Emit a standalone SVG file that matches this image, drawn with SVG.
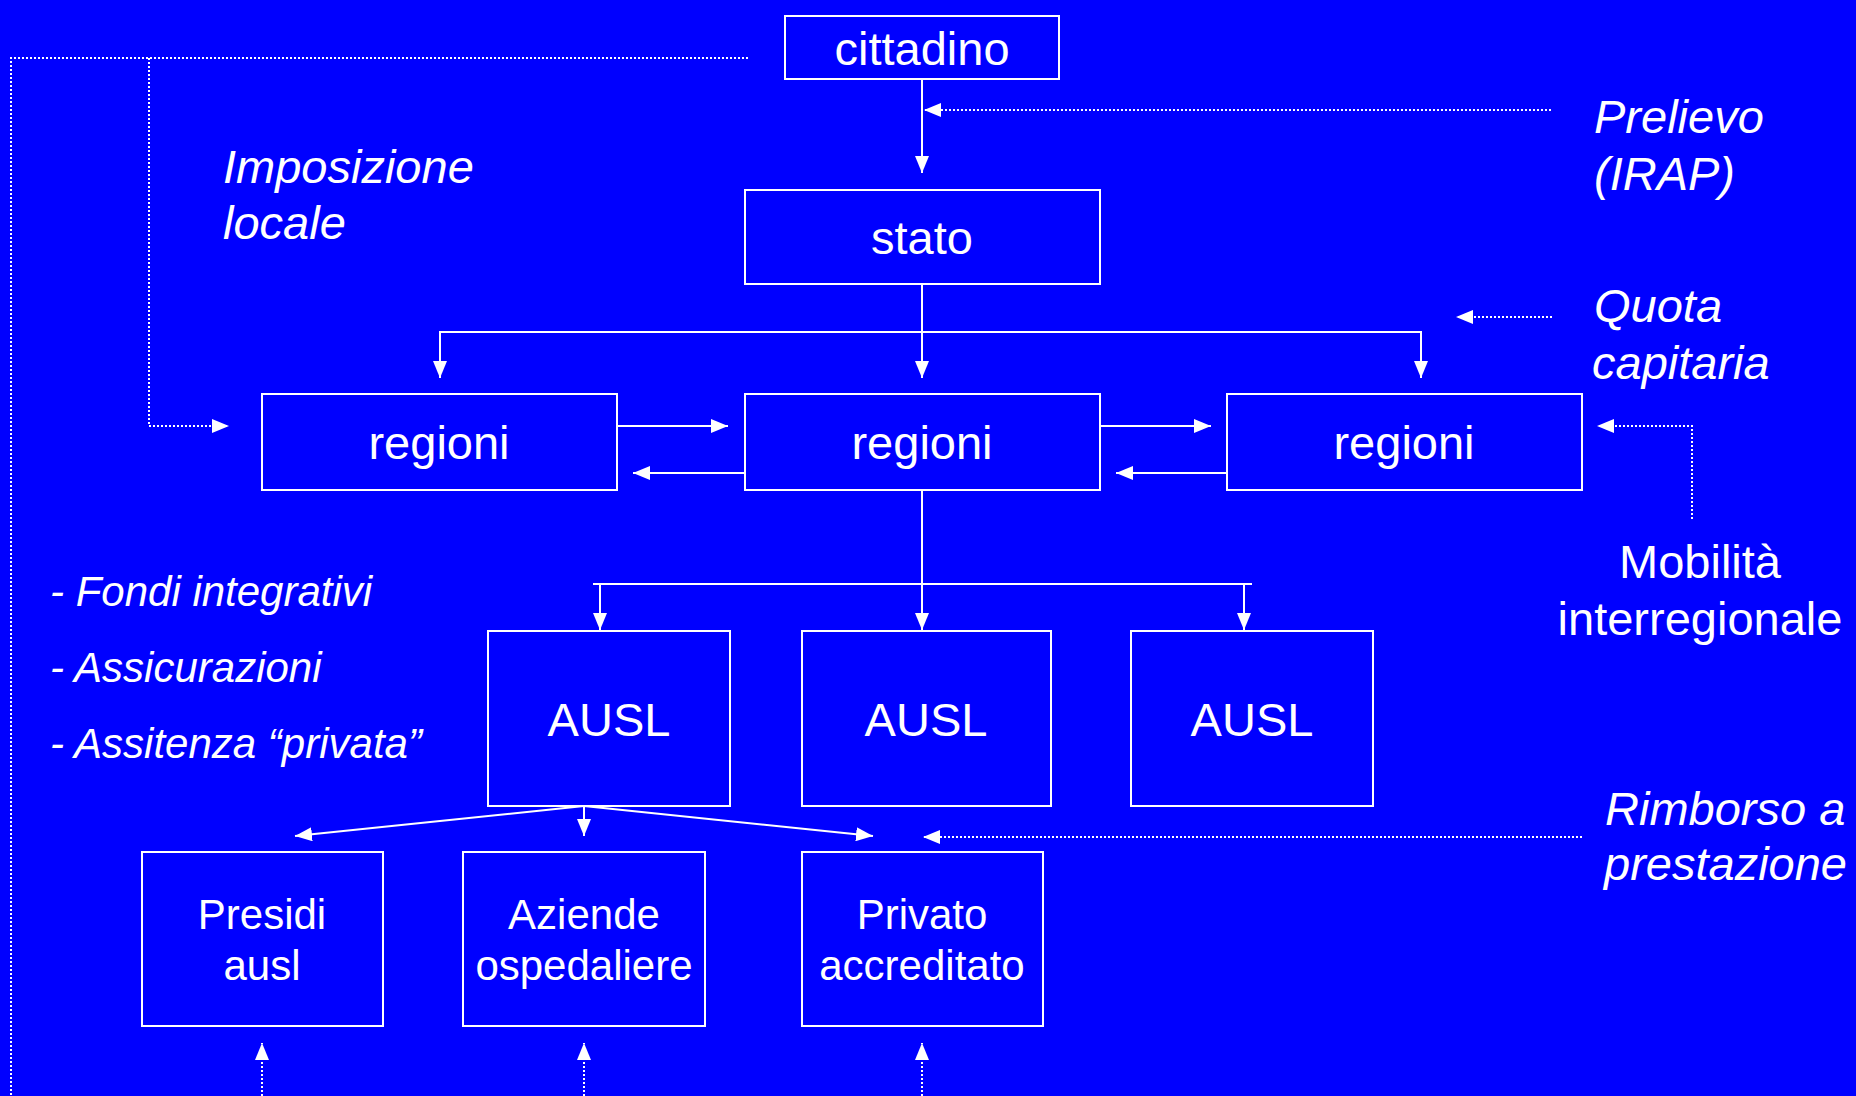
<svg xmlns="http://www.w3.org/2000/svg" width="1856" height="1096" viewBox="0 0 1856 1096">
<style>
.bg{fill:#0000FF}
.box{fill:none;stroke:#FFFFFF;stroke-width:2}
.ln{fill:none;stroke:#FFFFFF;stroke-width:2}
.dot{fill:none;stroke:#FFFFFF;stroke-width:2;stroke-dasharray:2 2}
.t{font-family:"Liberation Sans",Arial,sans-serif;fill:#FFFFFF;font-size:47px}
.s{font-size:42px}
.i{font-style:italic}
.c{text-anchor:middle}
</style>
<defs>
<marker id="ah" markerUnits="userSpaceOnUse" markerWidth="18" markerHeight="14" refX="17" refY="7" orient="auto">
<path d="M0,0 L17,7 L0,14 z" fill="#FFFFFF"/>
</marker>
</defs>
<rect class="bg" x="0" y="0" width="1856" height="1096"/>

<g id="connectors">
<line class="ln" x1="922" y1="79" x2="922" y2="173" marker-end="url(#ah)"/>
<line class="dot" x1="1551" y1="110" x2="924" y2="110" marker-end="url(#ah)"/>
<line class="ln" x1="922" y1="284" x2="922" y2="378" marker-end="url(#ah)"/>
<polyline class="ln" points="440,378 440,332 1421,332 1421,378"/>
<line class="ln" x1="440" y1="340" x2="440" y2="378" marker-end="url(#ah)"/>
<line class="ln" x1="1421" y1="340" x2="1421" y2="378" marker-end="url(#ah)"/>
<line class="ln" x1="617" y1="426" x2="728" y2="426" marker-end="url(#ah)"/>
<line class="ln" x1="745" y1="473" x2="633" y2="473" marker-end="url(#ah)"/>
<line class="ln" x1="1100" y1="426" x2="1211" y2="426" marker-end="url(#ah)"/>
<line class="ln" x1="1227" y1="473" x2="1116" y2="473" marker-end="url(#ah)"/>
<polyline class="dot" points="748,58 11,58 11,1096"/>
<polyline class="dot" points="149,58 149,426 229,426" marker-end="url(#ah)"/>
<line class="dot" x1="1552" y1="317" x2="1456" y2="317" marker-end="url(#ah)"/>
<polyline class="dot" points="1692,519 1692,426 1597,426" marker-end="url(#ah)"/>
<line class="ln" x1="922" y1="490" x2="922" y2="630" marker-end="url(#ah)"/>
<line class="ln" x1="593" y1="584" x2="1252" y2="584"/>
<line class="ln" x1="600" y1="584" x2="600" y2="630" marker-end="url(#ah)"/>
<line class="ln" x1="1244" y1="584" x2="1244" y2="630" marker-end="url(#ah)"/>
<line class="ln" x1="584" y1="806" x2="295" y2="836" marker-end="url(#ah)"/>
<line class="ln" x1="584" y1="806" x2="584" y2="836" marker-end="url(#ah)"/>
<line class="ln" x1="584" y1="806" x2="873" y2="836" marker-end="url(#ah)"/>
<line class="dot" x1="1582" y1="837" x2="923" y2="837" marker-end="url(#ah)"/>
<line class="dot" x1="262" y1="1096" x2="262" y2="1043" marker-end="url(#ah)"/>
<line class="dot" x1="584" y1="1096" x2="584" y2="1043" marker-end="url(#ah)"/>
<line class="dot" x1="922" y1="1096" x2="922" y2="1043" marker-end="url(#ah)"/>
</g>

<g id="cittadino"><rect class="box" x="785" y="16" width="274" height="63"/><text class="t c" x="922" y="65">cittadino</text></g>
<g id="stato"><rect class="box" x="745" y="190" width="355" height="94"/><text class="t c" x="922" y="254">stato</text></g>
<g id="regioni1"><rect class="box" x="262" y="394" width="355" height="96"/><text class="t c" x="439" y="459">regioni</text></g>
<g id="regioni2"><rect class="box" x="745" y="394" width="355" height="96"/><text class="t c" x="922" y="459">regioni</text></g>
<g id="regioni3"><rect class="box" x="1227" y="394" width="355" height="96"/><text class="t c" x="1404" y="459">regioni</text></g>
<g id="ausl1"><rect class="box" x="488" y="631" width="242" height="175"/><text class="t c" x="609" y="736">AUSL</text></g>
<g id="ausl2"><rect class="box" x="802" y="631" width="249" height="175"/><text class="t c" x="926" y="736">AUSL</text></g>
<g id="ausl3"><rect class="box" x="1131" y="631" width="242" height="175"/><text class="t c" x="1252" y="736">AUSL</text></g>
<g id="presidi"><rect class="box" x="142" y="852" width="241" height="174"/><text class="t s c" x="262" y="929">Presidi</text><text class="t s c" x="262" y="980">ausl</text></g>
<g id="aziende"><rect class="box" x="463" y="852" width="242" height="174"/><text class="t s c" x="584" y="929">Aziende</text><text class="t s c" x="584" y="980">ospedaliere</text></g>
<g id="privato"><rect class="box" x="802" y="852" width="241" height="174"/><text class="t s c" x="922" y="929">Privato</text><text class="t s c" x="922" y="980">accreditato</text></g>

<g id="labels">
<text class="t i" x="223" y="183">Imposizione</text>
<text class="t i" x="223" y="239">locale</text>
<text class="t i" x="1594" y="133">Prelievo</text>
<text class="t i" x="1594" y="190">(IRAP)</text>
<text class="t i" x="1594" y="322">Quota</text>
<text class="t i" x="1592" y="379">capitaria</text>
<text class="t c" x="1700" y="578">Mobilità</text>
<text class="t c" x="1700" y="635">interregionale</text>
<text class="t i" x="1605" y="825">Rimborso a</text>
<text class="t i" x="1604" y="880">prestazione</text>
<text class="t s i" x="50" y="606">- Fondi integrativi</text>
<text class="t s i" x="50" y="682">- Assicurazioni</text>
<text class="t s i" x="50" y="758">- Assitenza “privata”</text>
</g>
</svg>
